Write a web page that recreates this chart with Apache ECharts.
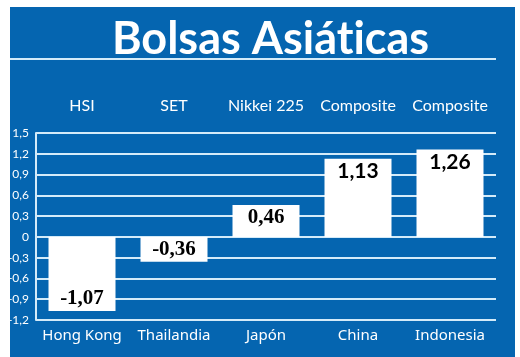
<!DOCTYPE html>
<html><head><meta charset="utf-8">
<script src="https://cdn.jsdelivr.net/npm/echarts@6/dist/echarts.min.js"></script>
<style>html,body{margin:0;padding:0;background:#fff}#c{width:520px;height:357px}</style>
</head><body><div id="c"></div>
<script>
const countries = ['Hong Kong', 'Thailandia', 'Japón', 'China', 'Indonesia'];
const indices = ['HSI', 'SET', 'Nikkei 225', 'Composite', 'Composite'];
const changes = [-1.07, -0.36, 0.46, 1.13, 1.26];
const yMin = -1.2, yMax = 1.5, yStep = 0.3;
const titleText = 'Bolsas Asiát\u200Cicas';

const BLUE = '#0565b0', LINE = '#d4ebf9';
const labelFonts = ['Liberation Serif', 'Liberation Serif', 'Liberation Serif', 'Lato', 'Lato'];
const fmtVal = v => v.toFixed(2).replace('.', ',');
const fmtAxis = v => Math.abs(v) < 1e-9 ? '0' : (Math.round(v * 10) / 10).toFixed(1).replace('.', ',');

const chart = echarts.init(document.getElementById('c'), null, {renderer: 'canvas'});
chart.setOption({
  backgroundColor: '#ffffff',
  animation: false,
  graphic: [
    {type: 'rect', z: -10, shape: {x: 10, y: 7, width: 505, height: 350}, style: {fill: BLUE}},
    {type: 'line', z: -5, shape: {x1: 10, y1: 59, x2: 496, y2: 59}, style: {stroke: LINE, lineWidth: 2}}
  ],
  title: {
    text: titleText, left: 107, top: 12,
    textStyle: {color: '#ffffff', fontFamily: 'Lato', fontWeight: 'bold', fontSize: 45}
  },
  grid: {left: 36, right: 24, top: 133, bottom: 37, containLabel: false},
  xAxis: [
    {type: 'category', data: countries, position: 'bottom',
     axisLine: {show: false}, axisTick: {show: false}, splitLine: {show: false},
     axisLabel: {interval: 0, color: '#ffffff', fontSize: 15, fontFamily: 'Noto Sans', margin: 8}},
    {type: 'category', data: indices, position: 'top',
     axisLine: {show: false}, axisTick: {show: false}, splitLine: {show: false},
     axisLabel: {interval: 0, color: '#ffffff', fontSize: 16, fontFamily: 'Lato', margin: 19}}
  ],
  yAxis: {
    type: 'value', min: yMin, max: yMax, interval: yStep,
    axisLine: {show: true, lineStyle: {color: LINE, width: 2}},
    axisTick: {show: false},
    splitLine: {show: true, lineStyle: {color: LINE, width: 2}},
    axisLabel: {color: '#ffffff', fontSize: 12, margin: 7, fontFamily: 'Lato', formatter: fmtAxis}
  },
  series: [{
    type: 'bar', xAxisIndex: 0, barWidth: 67,
    itemStyle: {color: '#ffffff'},
    data: changes.map((v, i) => ({
      value: v,
      label: {
        show: true, position: v < 0 ? 'insideBottom' : 'insideTop', distance: 2,
        color: '#000000', fontSize: 21, fontWeight: 'bold', fontFamily: labelFonts[i],
        formatter: () => fmtVal(v)
      }
    }))
  }]
});
</script></body></html>
